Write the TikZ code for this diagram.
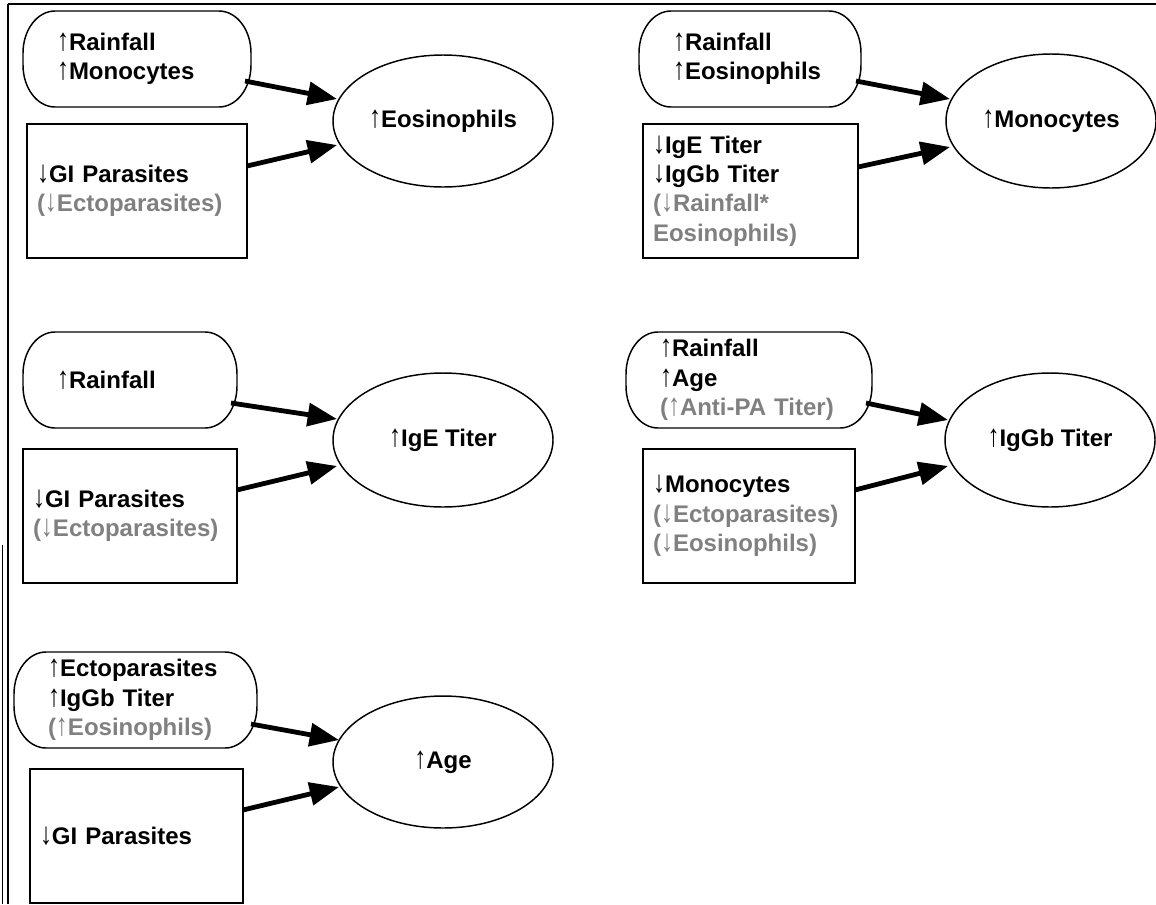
\documentclass[tikz,border=0pt]{standalone}
\usepackage{fontspec}
\setmainfont{Liberation Sans}
\usetikzlibrary{arrows.meta,shapes.geometric,calc}
\definecolor{tgray}{gray}{0.5}
\newcommand\gr[1]{{\color{tgray}#1}}
\newcommand\ua{\scalebox{1}[1.3]{↑}}
\newcommand\da{\scalebox{1}[1.3]{↓}}
\newcommand\capsule[1]{%
  \draw[shapeline] ($(#1.north west)+(32,0)$) -- ($(#1.north east)+(-32,0)$)
    arc[start angle=90,end angle=0,x radius=32,y radius=42]
    -- ($(#1.south east)+(0,42)$)
    arc[start angle=0,end angle=-90,x radius=32,y radius=42]
    -- ($(#1.south west)+(32,0)$)
    arc[start angle=270,end angle=180,x radius=32,y radius=42]
    -- ($(#1.north west)+(0,-42)$)
    arc[start angle=180,end angle=90,x radius=32,y radius=42] -- cycle;}
\begin{document}
\begin{tikzpicture}[x=0.75pt,y=0.75pt,
  lbl/.style={font=\fontsize{18}{22}\selectfont\bfseries},
  shapeline/.style={line width=1.1pt},
  capbox/.style={lbl,rectangle,outer sep=0pt,inner ysep=0pt,inner xsep=25.5pt,minimum height=72pt,align=left},
  rectbox/.style={lbl,rectangle,draw,shapeline,outer sep=0pt,inner ysep=0pt,inner xsep=7.5pt,minimum height=100.5pt,align=left},
  ellbox/.style={lbl,ellipse,draw,shapeline,inner sep=0pt,minimum width=165pt,minimum height=99pt},
  conn/.style={line width=3.6pt,-{Triangle[length=22pt,width=17pt]}}]
\useasboundingbox (0,0) rectangle (1156,-904);
% frame
\draw[line width=1.4pt] (8,-4) -- (1156,-4);
\draw[line width=1.2pt] (8,-4) -- (8,-904);
\draw[line width=0.9pt] (2.5,-545) -- (2.5,-904);
% panel 1
\node[capbox,text width=120pt] (rb1) at (137,-59) {\ua Rainfall\\\ua Monocytes};
\capsule{rb1}
\node[rectbox,text width=150pt] (r1) at (137,-191) {\da GI Parasites\\\gr{(\da Ectoparasites)}};
\node[ellbox] (e1) at (443,-121) {\ua Eosinophils};
\draw[conn] ($(rb1.east)+(-6,-22)$) -- ($(e1.center)+(-106,22)$);
\draw[conn] ($(r1.east)+(0,25)$) -- ($(e1.center)+(-106,-24)$);
% panel 2
\node[capbox,text width=115.5pt] (rb2) at (750,-59) {\ua Rainfall\\\ua Eosinophils};
\capsule{rb2}
\node[rectbox,text width=146.25pt] (r2) at (750.5,-191) {\da IgE Titer\\\da IgGb Titer\\\gr{(\da Rainfall*}\\\gr{Eosinophils)}};
\node[ellbox,minimum width=157.5pt,minimum height=100.5pt] (e2) at (1051,-121) {\ua Monocytes};
\draw[conn] ($(rb2.east)+(-5,-22)$) -- ($(e2.center)+(-101,22)$);
\draw[conn] ($(r2.east)+(0,24)$) -- ($(e2.center)+(-101,-26)$);
% panel 3
\node[capbox,text width=109.5pt] (rb3) at (130,-380) {\ua Rainfall};
\capsule{rb3}
\node[rectbox,text width=145.5pt] (r3) at (130,-516) {\da GI Parasites\\\gr{(\da Ectoparasites)}};
\node[ellbox,minimum height=100.5pt] (e3) at (443,-440) {\ua IgE Titer};
\draw[conn] ($(rb3.east)+(-6,-23)$) -- ($(e3.center)+(-106,21)$);
\draw[conn] ($(r3.east)+(0,26)$) -- ($(e3.center)+(-106,-26)$);
% panel 4
\node[capbox,text width=133.5pt] (rb4) at (749,-380) {\ua Rainfall\\\ua Age\\\gr{(\ua Anti-PA Titer)}};
\capsule{rb4}
\node[rectbox,text width=144pt] (r4) at (749,-516) {\da Monocytes\\\gr{(\da Ectoparasites)}\\\gr{(\da Eosinophils)}};
\node[ellbox,minimum width=157.5pt,minimum height=100.5pt] (e4) at (1050,-440) {\ua IgGb Titer};
\draw[conn] ($(rb4.east)+(-6,-23)$) -- ($(e4.center)+(-102,20)$);
\draw[conn] ($(r4.east)+(0,26)$) -- ($(e4.center)+(-102,-26)$);
% panel 5
\node[capbox,text width=131.25pt] (rb5) at (135.5,-700) {\ua Ectoparasites\\\ua IgGb Titer\\\gr{(\ua Eosinophils)}};
\capsule{rb5}
\node[rectbox,text width=144.75pt] (r5) at (136.5,-836) {\da GI Parasites};
\node[ellbox] (e5) at (443,-762) {\ua Age};
\draw[conn] ($(rb5.east)+(-6,-24)$) -- ($(e5.center)+(-104,22)$);
\draw[conn] ($(r5.east)+(0,26)$) -- ($(e5.center)+(-104,-25)$);
\end{tikzpicture}
\end{document}
